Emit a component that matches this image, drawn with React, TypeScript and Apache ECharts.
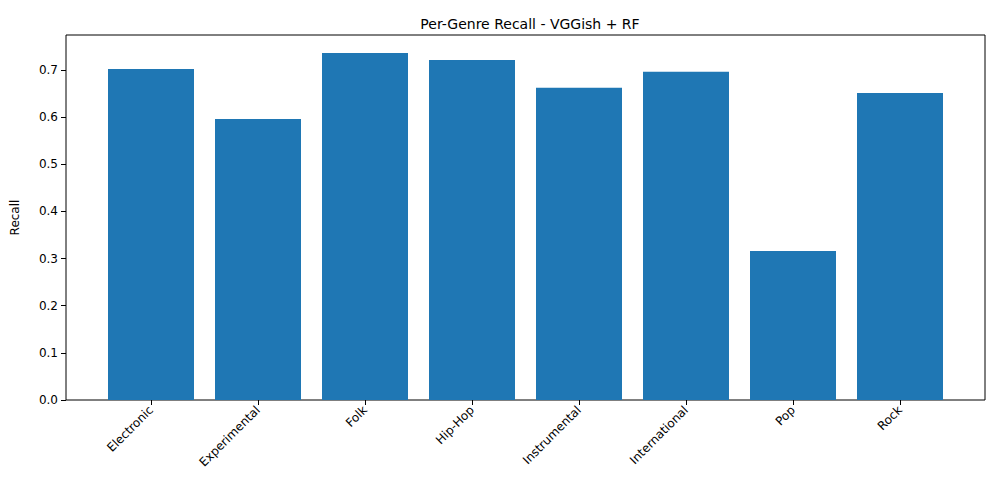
import { useEffect, useRef } from "react";
import * as echarts from "echarts";

const genres = ["Electronic", "Experimental", "Folk", "Hip-Hop", "Instrumental", "International", "Pop", "Rock"];
const recall = [0.702, 0.596, 0.736, 0.721, 0.662, 0.696, 0.316, 0.651];
const yMax = 0.774;

export default function App() {
  const ref = useRef<HTMLDivElement>(null);

  useEffect(() => {
    if (!ref.current) return;
    const chart = echarts.init(ref.current, null, { renderer: "svg" });
    const font = "DejaVu Sans";
    chart.setOption({
      animation: false,
      textStyle: { fontFamily: font },
      title: {
        text: "Per-Genre Recall - VGGish + RF",
        left: 525,
        top: 12,
        textAlign: "center",
        textStyle: { fontFamily: font, fontSize: 14, fontWeight: "normal", color: "#000" },
      },
      grid: [
        { left: 66, right: 15, top: 35, bottom: 100, show: true, borderColor: "#000", borderWidth: 1, backgroundColor: "transparent" },
        { left: 97.5, right: 46.5, top: 35, bottom: 100 },
      ],
      xAxis: [
        { type: "value", gridIndex: 0, show: false, min: 0, max: 1 },
        {
          type: "category",
          gridIndex: 1,
          data: genres,
          axisLine: { show: false },
          axisTick: { show: true, alignWithLabel: true, length: 5, lineStyle: { color: "#000" } },
          axisLabel: { rotate: 45, color: "#000", fontSize: 12, margin: 8, interval: 0 },
        },
      ],
      yAxis: [
        {
          type: "value",
          gridIndex: 0,
          min: 0,
          max: yMax,
          interval: 0.1,
          name: "Recall",
          nameLocation: "middle",
          nameGap: 45,
          nameTextStyle: { color: "#000", fontSize: 12 },
          splitLine: { show: false },
          axisLine: { show: false },
          axisTick: { show: true, length: 5, lineStyle: { color: "#000" } },
          axisLabel: { color: "#000", fontSize: 12, showMaxLabel: false, formatter: (v: number) => v.toFixed(1) },
        },
        { type: "value", gridIndex: 1, min: 0, max: yMax, show: false },
      ],
      series: [
        {
          type: "bar",
          xAxisIndex: 1,
          yAxisIndex: 1,
          data: recall,
          barWidth: 86,
          itemStyle: { color: "#1f77b4" },
        },
      ],
    });
    return () => chart.dispose();
  }, []);

  return <div ref={ref} style={{ width: 1000, height: 500, margin: -8 }} />;
}
